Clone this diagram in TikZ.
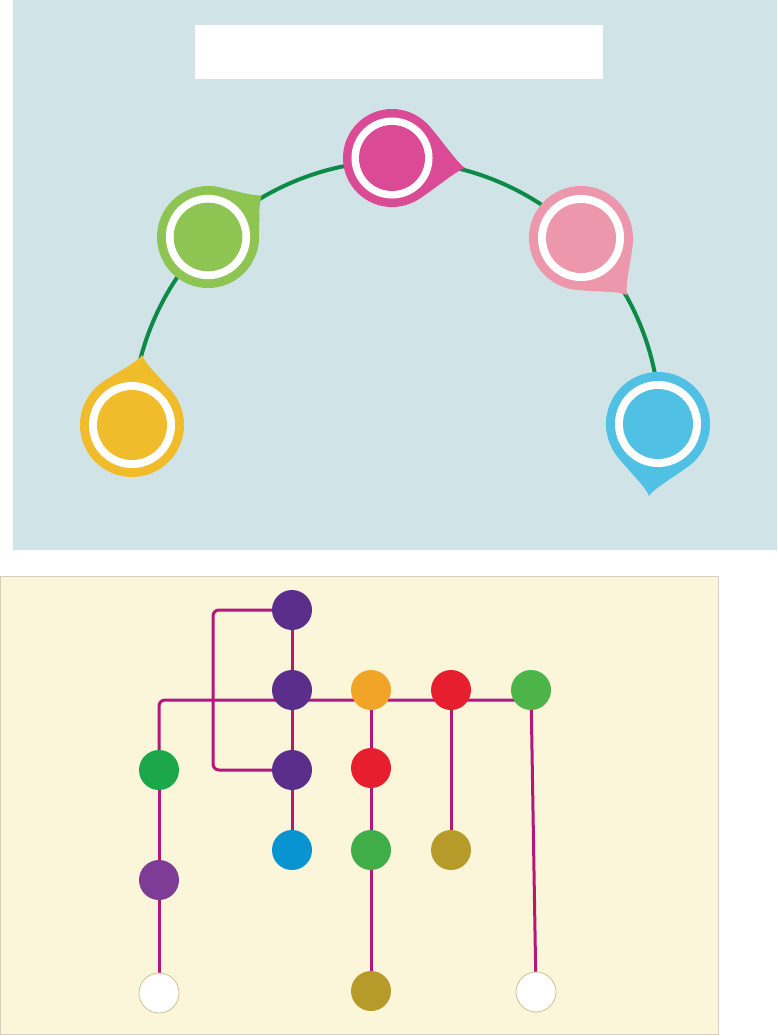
\documentclass[tikz,border=0pt]{standalone}
\usetikzlibrary{calc}
\definecolor{topbg}{RGB}{208,228,232}
\definecolor{botbg}{RGB}{251,245,217}
\definecolor{bordc}{RGB}{215,205,195}
\definecolor{arcg}{RGB}{12,138,72}
\definecolor{pyel}{RGB}{240,188,44}
\definecolor{pgrn}{RGB}{142,196,82}
\definecolor{pmag}{RGB}{219,74,148}
\definecolor{ppnk}{RGB}{236,151,172}
\definecolor{pblu}{RGB}{80,193,229}
\definecolor{lmag}{RGB}{180,22,124}
\definecolor{npur}{RGB}{92,46,140}
\definecolor{nora}{RGB}{240,165,40}
\definecolor{nred}{RGB}{230,30,45}
\definecolor{ngrA}{RGB}{76,180,72}
\definecolor{ngrB}{RGB}{28,168,74}
\definecolor{ngrC}{RGB}{64,174,72}
\definecolor{nblu}{RGB}{8,148,208}
\definecolor{noli}{RGB}{182,155,42}
\definecolor{npvl}{RGB}{126,60,150}
\definecolor{nwbd}{RGB}{205,195,150}
\pgfdeclarelayer{bg}\pgfdeclarelayer{lines}\pgfsetlayers{bg,lines,main}
% pin: name, cx, cy, tipx, tipy, colour, radius
\newcommand{\mypin}[7]{%
  \pgfmathsetmacro\pth{atan2((#5)-(#3),(#4)-(#2))}%
  \pgfmathsetmacro\pb{55}%
  \pgfmathsetmacro\pka{0.32*(#7)}%
  \pgfmathsetmacro\pkb{0.22*(#7)}%
  \fill[#6] (#2,#3) circle[radius=#7];
  \fill[#6] ($(#2,#3)+(\pth+\pb:#7)$)
     .. controls ($(#2,#3)+(\pth+\pb:#7)+(\pth+\pb-90:\pka)$) and ($(#4,#5)+(\pth+155:\pkb)$) .. (#4,#5)
     .. controls ($(#4,#5)+(\pth+205:\pkb)$) and ($(#2,#3)+(\pth-\pb:#7)+(\pth-\pb+90:\pka)$) .. ($(#2,#3)+(\pth-\pb:#7)$)
     -- (#2,#3) -- cycle;
  \node[ring, minimum size={#7*1.654pt}] (#1) at (#2,#3) {};
  \fill[#6] (#2,#3) circle[radius={#7*0.673}];
}
\tikzset{
  ring/.style={circle, fill=white, inner sep=0pt, draw=none},
  dot/.style={circle, minimum size=40pt, inner sep=0pt, draw=none},
  metro/.style={draw=lmag, line width=3pt, rounded corners=6pt},
  hollow/.style={dot, fill=white, draw=nwbd, line width=0.8pt},
}
\begin{document}
\begin{tikzpicture}[x=1pt,y=-1pt]
\useasboundingbox (0,0) rectangle (777,1036);
\begin{pgfonlayer}{bg}
  \fill[white] (0,0) rectangle (777,1036);
  \fill[topbg] (13,0) rectangle (777,550);
  \fill[white] (195,25) rectangle (603,79);
  \fill[botbg, draw=bordc, line width=1pt] (0.5,576) rectangle (718.5,1034.5);
\end{pgfonlayer}
% arc
\draw[arcg, line width=4pt] plot[domain=-168:-9, samples=90, smooth] ({396+264*cos(\x)},{425+264*sin(\x)});
% pins
\mypin{py}{132}{425}{142}{355}{pyel}{52}
\mypin{pg}{208}{237}{262}{195}{pgrn}{51}
\mypin{pm}{392}{158}{465}{168}{pmag}{49}
\mypin{pp}{581}{238}{627}{295}{ppnk}{52}
\mypin{pb}{658}{424}{649}{496}{pblu}{52}
% metro nodes
\node[dot, fill=npur] (n1) at (292,610) {};
\node[dot, fill=npur] (n2) at (292,690) {};
\node[dot, fill=nora] (n3) at (371,690) {};
\node[dot, fill=nred] (n4) at (451,690) {};
\node[dot, fill=ngrA] (n5) at (531,690) {};
\node[dot, fill=ngrB] (n6) at (159,770) {};
\node[dot, fill=npur] (n7) at (292,770) {};
\node[dot, fill=nred] (n8) at (371,768) {};
\node[dot, fill=nblu] (n9) at (292,850) {};
\node[dot, fill=ngrC] (n10) at (371,850) {};
\node[dot, fill=noli] (n11) at (451,850) {};
\node[dot, fill=npvl] (n12) at (159,880) {};
\node[hollow] (n13) at (159,993) {};
\node[dot, fill=noli] (n14) at (371,991) {};
\node[hollow] (n15) at (536,992) {};
\coordinate (c1) at (213,610);
\coordinate (c2) at (213,770);
\coordinate (c3) at (159,700);
\coordinate (c4) at (531,700);
\begin{pgfonlayer}{lines}
  \draw[metro] (n1.center) -- (c1) -- (c2) -- (n7.center);
  \draw[metro] (n6.center) -- (c3) -- (c4);
  \draw[metro] (n1.center) -- (n2.center) -- (n7.center) -- (n9.center);
  \draw[metro] (n6.center) -- (n12.center) -- (n13.center);
  \draw[metro] (n3.center) -- (n8.center) -- (n10.center) -- (n14.center);
  \draw[metro] (n4.center) -- (n11.center);
  \draw[metro] (n5.center) -- (n15.center);
\end{pgfonlayer}
\end{tikzpicture}
\end{document}
